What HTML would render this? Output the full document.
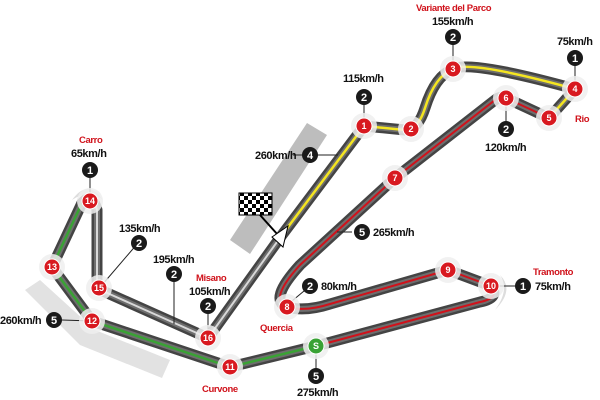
<!DOCTYPE html>
<html><head><meta charset="utf-8"><style>
html,body{margin:0;padding:0;background:#fff;}
svg{display:block;font-family:"Liberation Sans",sans-serif;}
.lb{font-size:11px;font-weight:bold;fill:#111;letter-spacing:-0.4px}
.rl{font-size:9.5px;font-weight:bold;fill:#d0121b;letter-spacing:-0.4px}
.n{font-size:9px;font-weight:bold;fill:#fff;text-anchor:middle}
.b{font-size:11px;font-weight:bold;fill:#fff;text-anchor:middle}
</style></head><body>
<svg width="600" height="400" viewBox="0 0 600 400" xmlns="http://www.w3.org/2000/svg">
<defs>
<pattern id="chk" width="8" height="8" patternUnits="userSpaceOnUse"><rect width="8" height="8" fill="#fff"/><rect width="4" height="4" fill="#000"/><rect x="4" y="4" width="4" height="4" fill="#000"/></pattern>
</defs>
<polygon points="230,240 307,123 327,135 250,254" fill="#bdbdbd"/>
<polygon points="25,290 40,280 95,330 170,360 162,378 80,345" fill="#e2e2e2"/>
<path d="M72,200 Q88,178 103,200 Q90,188 72,200Z" fill="#ddd"/>
<path d="M500,275 Q515,290 495,310 Q510,290 500,275Z" fill="#ddd"/>
<g fill="none" stroke-linejoin="round" stroke-linecap="round">
<path d="M208,338 L282,235 L364,126 L405,130 Q418,130 425,108 Q435,76 453,69 Q470,60 575,89 L549,118 L506,98 Q500,96 495,100 L395,178 L300,265 Q268,300 287,307 Q305,312 330,304 L448,270 L491,286 Q500,298 480,302 L316,346 L230,367 L92,321 L52,267 L82,203 Q92,192 97,210 L97,280 Q97,288 105,292 L208,338" stroke="#444" stroke-width="11"/>
<path d="M208,338 L282,235 L364,126 L405,130 Q418,130 425,108 Q435,76 453,69 Q470,60 575,89 L549,118 L506,98 Q500,96 495,100 L395,178 L300,265 Q268,300 287,307 Q305,312 330,304 L448,270 L491,286 Q500,298 480,302 L316,346 L230,367 L92,321 L52,267 L82,203 Q92,192 97,210 L97,280 Q97,288 105,292 L208,338" stroke="#6e6e6e" stroke-width="6"/>
<path d="M208,338 L282,235 M82,203 Q92,192 97,210 L97,280 Q97,288 105,292 L208,338" stroke="#d8d8d8" stroke-width="2"/>
<path d="M282,235 L364,126 L405,130 Q418,130 425,108 Q435,76 453,69 Q470,60 575,89 L549,118" stroke="#f4e521" stroke-width="2.5"/>
<path d="M549,118 L506,98 Q500,96 495,100 L395,178 L300,265 Q268,300 287,307 Q305,312 330,304 L448,270 L491,286 Q500,298 480,302 L316,346" stroke="#d0121b" stroke-width="2"/>
<path d="M316,346 L230,367 L92,321 L52,267 L82,203" stroke="#3aa235" stroke-width="2.5"/>
</g>
<rect x="239" y="193" width="33" height="22" fill="url(#chk)" stroke="#000" stroke-width="1"/>
<line x1="260" y1="215" x2="278" y2="235" stroke="#000" stroke-width="2"/>
<polygon points="272,237 288,226 283,247" fill="#fff" stroke="#000" stroke-width="1"/>
<g stroke="#222" stroke-width="1">
<line x1="90" y1="171" x2="90" y2="201"/><line x1="138" y1="243" x2="102" y2="285"/>
<line x1="174" y1="275" x2="174" y2="324"/><line x1="208" y1="306" x2="208" y2="338"/>
<line x1="62" y1="320" x2="92" y2="321"/><line x1="364" y1="98" x2="364" y2="126"/>
<line x1="453" y1="38" x2="453" y2="69"/><line x1="575" y1="58" x2="575" y2="89"/>
<line x1="506" y1="98" x2="506" y2="128"/><line x1="293" y1="155" x2="338" y2="155"/>
<line x1="337" y1="232" x2="352" y2="232"/><line x1="286" y1="306" x2="310" y2="286"/>
<line x1="491" y1="286" x2="521" y2="286"/><line x1="316" y1="346" x2="316" y2="376"/>
</g>
<g fill="#efefef" fill-opacity="0.85">
<circle cx="364" cy="126" r="13"/><circle cx="411" cy="129" r="13"/>
<circle cx="453" cy="69" r="13"/><circle cx="575" cy="89" r="13"/>
<circle cx="549" cy="118" r="13"/><circle cx="506" cy="98" r="13"/>
<circle cx="395" cy="178" r="13"/><circle cx="287" cy="307" r="13"/>
<circle cx="448" cy="270" r="13"/><circle cx="491" cy="286" r="13"/>
<circle cx="230" cy="367" r="13"/><circle cx="92" cy="321" r="13"/>
<circle cx="52" cy="267" r="13"/><circle cx="90" cy="201" r="13"/>
<circle cx="99" cy="288" r="13"/><circle cx="208" cy="338" r="13"/>
<circle cx="316" cy="346" r="13"/>
</g>
<g fill="#d81920" stroke="#fff" stroke-width="1">
<circle cx="364" cy="126" r="8"/><circle cx="411" cy="129" r="8"/><circle cx="453" cy="69" r="8"/>
<circle cx="575" cy="89" r="8"/><circle cx="549" cy="118" r="8"/><circle cx="506" cy="98" r="8"/>
<circle cx="395" cy="178" r="8"/><circle cx="287" cy="307" r="8"/><circle cx="448" cy="270" r="8"/>
<circle cx="491" cy="286" r="8"/><circle cx="230" cy="367" r="8"/><circle cx="92" cy="321" r="8"/>
<circle cx="52" cy="267" r="8"/><circle cx="90" cy="201" r="8"/><circle cx="99" cy="288" r="8"/>
<circle cx="208" cy="338" r="8"/>
</g>
<circle cx="316" cy="346" r="8" fill="#3aa235" stroke="#fff"/>
<g class="n">
<text x="364" y="129">1</text><text x="411" y="132">2</text><text x="453" y="72">3</text>
<text x="575" y="92">4</text><text x="549" y="121">5</text><text x="506" y="101">6</text>
<text x="395" y="181">7</text><text x="287" y="310">8</text><text x="448" y="273">9</text>
<text x="491" y="289">10</text><text x="230" y="370">11</text><text x="92" y="324">12</text>
<text x="52" y="270">13</text><text x="90" y="204">14</text><text x="99" y="291">15</text>
<text x="208" y="341">16</text><text x="316" y="349">S</text>
</g>
<g fill="#1a1a1a">
<circle cx="90" cy="170" r="8"/><circle cx="139" cy="243" r="8"/><circle cx="174" cy="274" r="8"/>
<circle cx="208" cy="306" r="8"/><circle cx="54" cy="320" r="8"/><circle cx="364" cy="97" r="8"/>
<circle cx="453" cy="37" r="8"/><circle cx="575" cy="58" r="8"/><circle cx="506" cy="129" r="8"/>
<circle cx="310" cy="155" r="8"/><circle cx="362" cy="232" r="8"/><circle cx="310" cy="286" r="8"/>
<circle cx="523" cy="286" r="8"/><circle cx="316" cy="376" r="8"/>
</g>
<g class="b">
<text x="90" y="174">1</text><text x="139" y="247">2</text><text x="174" y="278">2</text>
<text x="208" y="310">2</text><text x="54" y="324">5</text><text x="364" y="101">2</text>
<text x="453" y="41">2</text><text x="575" y="62">1</text><text x="506" y="133">2</text>
<text x="310" y="159">4</text><text x="362" y="236">5</text><text x="310" y="290">2</text>
<text x="523" y="290">1</text><text x="316" y="380">5</text>
</g>
<text class="rl" x="79" y="143">Carro</text>
<text class="lb" x="71" y="157">65km/h</text>
<text class="lb" x="119" y="232">135km/h</text>
<text class="lb" x="153" y="263">195km/h</text>
<text class="rl" x="196" y="281">Misano</text>
<text class="lb" x="189" y="295">105km/h</text>
<text class="lb" x="0" y="324">260km/h</text>
<text class="lb" x="255" y="159">260km/h</text>
<text class="lb" x="343" y="82">115km/h</text>
<text class="rl" x="416" y="11">Variante del Parco</text>
<text class="lb" x="432" y="25">155km/h</text>
<text class="lb" x="557" y="45">75km/h</text>
<text class="rl" x="575" y="122">Rio</text>
<text class="lb" x="485" y="151">120km/h</text>
<text class="lb" x="373" y="236">265km/h</text>
<text class="lb" x="321" y="290">80km/h</text>
<text class="rl" x="260" y="331">Quercia</text>
<text class="rl" x="533" y="275">Tramonto</text>
<text class="lb" x="535" y="290">75km/h</text>
<text class="rl" x="202" y="392">Curvone</text>
<text class="lb" x="297" y="396">275km/h</text>
</svg>
</body></html>
